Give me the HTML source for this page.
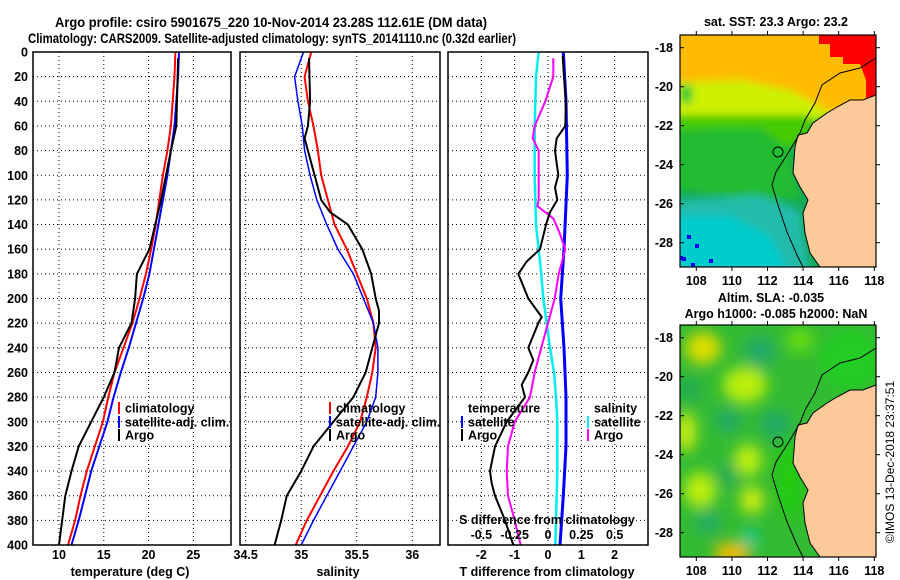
<!DOCTYPE html>
<html><head><meta charset="utf-8"><style>
html,body{margin:0;padding:0;background:#fff;}
svg{display:block;font-family:"Liberation Sans",Arial,sans-serif;font-weight:bold;}
</style></head><body>
<svg id="fig" width="900" height="580" viewBox="0 0 900 580" xmlns="http://www.w3.org/2000/svg">
<defs>
<filter id="blur4" x="-10%" y="-10%" width="120%" height="120%"><feGaussianBlur stdDeviation="4"/></filter>
<filter id="blur7" x="-20%" y="-20%" width="140%" height="140%"><feGaussianBlur stdDeviation="7"/></filter>
<clipPath id="clipTop"><rect x="680" y="35" width="196" height="232"/></clipPath>
<clipPath id="clipBot"><rect x="680" y="325" width="196" height="232"/></clipPath>
</defs>
<text x="271" y="27" font-size="14" text-anchor="middle" textLength="432" lengthAdjust="spacingAndGlyphs">Argo profile: csiro 5901675_220 10-Nov-2014 23.28S 112.61E (DM data)</text>
<text x="272" y="43" font-size="14" text-anchor="middle" textLength="488" lengthAdjust="spacingAndGlyphs">Climatology: CARS2009. Satellite-adjusted climatology: synTS_20141110.nc (0.32d earlier)</text>
<g id="panels"></g>
<g id="maps"></g>
<text transform="translate(894,462) rotate(-90)" font-size="12" font-weight="normal" text-anchor="middle">©IMOS 13-Dec-2018 23:37:51</text>
</svg>
<script>
// ---------- data ----------
const depthTicks = [0,20,40,60,80,100,120,140,160,180,200,220,240,260,280,300,320,340,360,380,400];
const tempTicks = [10,15,20,25];
const salTicks = [34.5,35,35.5,36];
const tdiffTicks = [-2,-1,0,1,2];
const sdiffTicks = [-0.5,-0.25,0,0.25,0.5];

const climDepth = [0,20,40,60,80,100,120,140,160,180,200,220,240,260,280,300,320,340,360,380,400];
const climTemp  = [23.0,22.9,22.7,22.5,22.1,21.6,21.2,20.8,20.3,19.7,19.0,18.2,17.2,16.2,15.5,14.9,14.0,13.1,12.4,11.8,11.0];
const satTemp   = [23.4,23.3,23.1,22.9,22.5,22.1,21.6,21.1,20.6,20.1,19.4,18.6,17.8,16.9,16.1,15.4,14.5,13.6,12.9,12.2,11.4];
const climSal   = [35.09,35.03,35.06,35.11,35.15,35.18,35.24,35.30,35.41,35.50,35.59,35.65,35.67,35.64,35.59,35.53,35.42,35.29,35.17,35.05,34.95];
const satSal    = [35.02,34.94,34.97,35.01,35.03,35.08,35.14,35.23,35.33,35.47,35.56,35.65,35.69,35.69,35.67,35.59,35.47,35.35,35.23,35.11,35.00];

const argoTDepth = [5,60,80,120,160,180,200,220,240,260,280,300,320,340,360,400];
const argoTemp   = [23.3,23.1,22.5,21.4,20.1,18.7,18.5,18.1,16.7,16.2,15.0,13.6,12.2,11.4,10.7,10.0];
const argoSDepth = [5,40,60,70,80,100,120,130,140,160,180,200,210,220,240,260,280,300,320,340,360,380,400];
const argoSal    = [35.07,35.08,35.06,35.03,35.06,35.12,35.18,35.26,35.42,35.55,35.63,35.67,35.70,35.70,35.64,35.58,35.47,35.29,35.11,35.00,34.87,34.82,34.76];

const satTdDepth = [0,40,100,160,200,240,280,320,360,400];
const satTdiff   = [0.46,0.54,0.58,0.48,0.38,0.48,0.54,0.54,0.46,0.36];
const argoTdDepth = [3,20,40,60,70,80,100,110,120,130,140,160,170,180,200,215,220,240,250,260,270,280,300,320,340,350,360,380,400];
const argoTdiff   = [0.44,0.48,0.54,0.52,0.26,0.21,0.31,0.21,0.28,0.06,-0.06,-0.24,-0.64,-0.89,-0.59,-0.19,-0.29,-0.59,-0.44,-0.59,-0.79,-0.69,-1.24,-1.59,-1.74,-1.69,-1.59,-1.29,-1.04];
const satSdDepth = [0,20,60,100,140,160,180,200,220,240,260,280,300,340,400];
const satSdiff   = [-0.07,-0.09,-0.1,-0.1,-0.09,-0.07,-0.05,-0.035,-0.01,0.015,0.045,0.06,0.07,0.07,0.055];
const argoSdDepth = [5,20,40,60,70,80,100,120,125,135,145,160,180,200,220,240,260,280,300,320,340,360,380,400];
const argoSdiff   = [0.04,0.04,-0.02,-0.1,-0.115,-0.07,-0.07,-0.07,-0.08,0.04,0.08,0.13,0.08,0.05,0.0,-0.05,-0.1,-0.135,-0.25,-0.3,-0.31,-0.3,-0.25,-0.205];

// ---------- scales ----------
const Y0=52, Y1=545;
const yD = d => Y0 + d*(Y1-Y0)/400;
const xT = t => 59 + (t-10)*8.955;
const xS = s => 245.7 + (s-34.5)*111.07;
const xTd = t => 548 + t*33.33;
const xSd = s => xTd(s*4);
const NS='http://www.w3.org/2000/svg';
const root=document.getElementById('panels');
function mk(tag,attrs,parent){const e=document.createElementNS(NS,tag);for(const k in attrs)e.setAttribute(k,attrs[k]);(parent||root).appendChild(e);return e;}
function txt(s,attrs,parent){const e=mk('text',attrs,parent);e.textContent=s;return e;}

const panels=[{l:33,r:231,name:'temperature-panel'},{l:240,r:440,name:'salinity-panel'},{l:448,r:648,name:'difference-panel'}];
const vgrid=[tempTicks.map(xT), salTicks.map(xS), tdiffTicks.map(xTd)];
panels.forEach((p,i)=>{
  const g=mk('g',{});
  
  
  depthTicks.slice(1,-1).forEach(d=>{
    const l=mk('line',{x1:p.l,x2:p.r,y1:yD(d),y2:yD(d),stroke:'#000','stroke-width':1,'stroke-dasharray':'1,3'},g);
    
    
  });
  vgrid[i].forEach(x=>{
    const l=mk('line',{x1:x,x2:x,y1:Y0,y2:Y1,stroke:'#000','stroke-width':1,'stroke-dasharray':'1,3'},g);
    
    
  });
  p.g=g;
});
function line(xs,ds,fx,color,w,name,g){
  const pts=xs.map((v,i)=>fx(v).toFixed(1)+','+yD(ds[i]).toFixed(1)).join(' ');
  const e=mk('polyline',{points:pts,fill:'none',stroke:color,'stroke-width':w,'stroke-linejoin':'round'},g);
  
  
}
line(climTemp,climDepth,xT,'#ff0000',2,'climatology-temperature-line',panels[0].g);
line(satTemp,climDepth,xT,'#0000ff',2,'satellite-temperature-line',panels[0].g);
line(argoTemp,argoTDepth,xT,'#000',2,'argo-temperature-line',panels[0].g);
line(climSal,climDepth,xS,'#ff0000',2,'climatology-salinity-line',panels[1].g);
line(satSal,climDepth,xS,'#0000ff',1.5,'satellite-salinity-line',panels[1].g);
line(argoSal,argoSDepth,xS,'#000',2,'argo-salinity-line',panels[1].g);
line(satSdiff,satSdDepth,xSd,'#00eeee',2.5,'satellite-salinity-difference-line',panels[2].g);
line(satTdiff,satTdDepth,xTd,'#0000ff',3,'satellite-temperature-difference-line',panels[2].g);
line(argoSdiff,argoSdDepth,xSd,'#ff00ff',2,'argo-salinity-difference-line',panels[2].g);
line(argoTdiff,argoTdDepth,xTd,'#000',2,'argo-temperature-difference-line',panels[2].g);

panels.forEach(p=>{
  const f=mk('rect',{x:p.l,y:Y0,width:p.r-p.l,height:Y1-Y0,fill:'none',stroke:'#000','stroke-width':1.5},p.g);
  
  
});
depthTicks.forEach(d=>{
  const t=txt(String(d),{x:28,y:yD(d)+4.5,'font-size':12.5,'text-anchor':'end'});
  
  
});
tempTicks.forEach(v=>{const t=txt(String(v),{x:xT(v),y:559,'font-size':12.5,'text-anchor':'middle'});
  
  });
salTicks.forEach(v=>{const t=txt(String(v),{x:xS(v),y:559,'font-size':12.5,'text-anchor':'middle'});
  
  });
tdiffTicks.forEach(v=>{const t=txt(String(v),{x:xTd(v),y:559,'font-size':12.5,'text-anchor':'middle'});
  
  });
sdiffTicks.forEach(v=>{const t=txt(String(v),{x:xSd(v),y:539,'font-size':12.5,'text-anchor':'middle'});
  
  });
[['temperature (deg C)',130,'temperature-axis-title'],['salinity',338,'salinity-axis-title'],['T difference from climatology',547,'t-difference-axis-title']].forEach(a=>{
  const t=txt(a[0],{x:a[1],y:576,'font-size':12.5,'text-anchor':'middle'});
  
  
});
const sd=txt('S difference from climatology',{x:547,y:524,'font-size':12.5,'text-anchor':'middle'});


function leg(x,y,color,label){
  const g=mk('g',{});
  
  
  if(color) mk('rect',{x:x,y:y-6,width:2,height:12,fill:color},g);
  txt(label,{x:x+7,y:y+4.5,'font-size':12.5},g);
}
leg(118,408,'#ff0000','climatology');leg(118,422,'#0000ff','satellite-adj. clim.');leg(118,435,'#000','Argo');
leg(329,408,'#ff0000','climatology');leg(329,422,'#0000ff','satellite-adj. clim.');leg(329,435,'#000','Argo');
leg(461,408,null,'temperature');leg(461,422,'#0000ff','satellite');leg(461,435,'#000','Argo');
leg(587,408,null,'salinity');leg(587,422,'#00eeee','satellite');leg(587,435,'#ff00ff','Argo');

// ---------- maps ----------
const mroot=document.getElementById('maps');
const lonTicks=[108,110,112,114,116,118];
const latTicks=[-18,-20,-22,-24,-26,-28];
const xLon=l=>696.3+(l-108)*17.8;
const land=[[876,95],[863,100],[850,100],[837,107],[827,113],[813,123],[807,133],[798,135],[795,147],[793,173],[800,187],[808,200],[803,213],[805,233],[810,253],[820,267],[876,267]];
const bathy=[[876,58],[860,68],[840,73],[822,85],[815,103],[805,120],[800,133],[790,150],[776,172],[772,185],[778,205],[787,232],[797,255],[803,267]];
function pts(a,dy){return a.map(p=>p[0]+','+(p[1]+dy)).join(' ');}
function mapFrame(dy,top,clip,name,fillFn){
  const g=mk('g',{},mroot);
  
  
  const c=mk('g',{'clip-path':'url(#'+clip+')'},g);
  fillFn(c);
  mk('polygon',{points:pts(land,dy),fill:'#fcc998'},c);
  mk('polyline',{points:pts(land.slice(0,-1),dy),fill:'none',stroke:'#000','stroke-width':1},c);
  mk('polyline',{points:pts(bathy,dy),fill:'none',stroke:'#000','stroke-width':1},c);
  const circ=mk('circle',{cx:778,cy:152+dy,r:5,fill:'none',stroke:'#000','stroke-width':1},g);
  
  
  mk('rect',{x:680,y:35+dy,width:196,height:232,fill:'none',stroke:'#000','stroke-width':1.2},g);
  const yLat=l=>47.7+dy+(-18-l)*19.5;
  latTicks.forEach(l=>{
    mk('line',{x1:680,x2:684,y1:yLat(l),y2:yLat(l),stroke:'#000'},g);
    mk('line',{x1:876,x2:880,y1:yLat(l),y2:yLat(l),stroke:'#000'},g);
    const t=txt(String(l),{x:673,y:yLat(l)+4.5,'font-size':12.5,'text-anchor':'end'},g);
    
    
  });
  lonTicks.forEach(l=>{
    mk('line',{x1:xLon(l),x2:xLon(l),y1:31+dy,y2:35+dy,stroke:'#000'},g);
    mk('line',{x1:xLon(l),x2:xLon(l),y1:267+dy,y2:271+dy,stroke:'#000'},g);
    const t=txt(String(l),{x:xLon(l),y:285+dy,'font-size':12.5,'text-anchor':'middle'},g);
    
    
  });
}
mapFrame(0,35,'clipTop','sst-map',c=>{
  mk('rect',{x:680,y:35,width:196,height:232,fill:'#11aa55'},c);
  const b=mk('g',{filter:'url(#blur4)'},c);
  mk('polygon',{points:'670,25 890,25 890,110 840,115 800,125 680,118 670,118',fill:'#ccf000'},b);
  mk('polygon',{points:'670,25 890,25 890,118 830,112 790,90 740,80 680,82 670,82',fill:'#ffbb00'},b);
  mk('polygon',{points:'670,115 810,115 810,140 780,150 740,135 670,130',fill:'#44cc00'},b);
  mk('polygon',{points:'670,130 760,128 790,150 800,200 770,200 670,190',fill:'#22bb33'},b);
  mk('polygon',{points:'670,200 760,195 800,210 810,275 670,275',fill:'#22bbaa'},b);
  mk('polygon',{points:'670,215 730,215 770,235 790,275 670,275',fill:'#00cccc'},b);
  mk('rect',{x:680,y:85,width:12,height:18,fill:'#33cc33'},b);
  mk('polygon',{points:'819,30 890,30 890,100 866,100 866,80 860,64 843,64 843,57 830,57 830,44 819,44',fill:'#ff0000'},c);
  [[689,237],[697,246],[681,258],[684,259],[711,261],[693,265]].forEach(p=>{
    mk('rect',{x:p[0]-2,y:p[1]-2,width:4,height:4,fill:'#0000ee'},c);
  });
});
mapFrame(290,325,'clipBot','sla-map',c=>{
  mk('rect',{x:680,y:325,width:196,height:232,fill:'#33bb33'},c);
  const b=mk('g',{filter:'url(#blur7)'},c);
  [[703,348,18,16,'#dddd00'],[745,385,22,18,'#bbee11'],[686,432,10,20,'#ccee11'],[748,460,14,16,'#bbee11'],[752,500,12,14,'#ccee11'],[700,490,16,18,'#bbee11'],[732,553,18,10,'#ffbb00'],
   [760,352,16,16,'#22aa66'],[690,390,10,14,'#22aa55'],[728,420,14,12,'#22aa66'],[775,424,16,14,'#22aa66'],[728,475,10,14,'#22aa55'],[708,522,12,12,'#22aa66'],[750,538,8,8,'#00ccaa'],[800,340,14,12,'#66dd11'],[850,360,30,30,'#22cc22'],[790,480,12,40,'#22cc11']
  ].forEach(e=>mk('ellipse',{cx:e[0],cy:e[1],rx:e[2],ry:e[3],fill:e[4]},b));
});
const t1=txt('sat. SST: 23.3 Argo: 23.2',{x:776,y:26,'font-size':12.5,'text-anchor':'middle'},mroot);


const t2=txt('Altim. SLA: -0.035',{x:771,y:302,'font-size':12.5,'text-anchor':'middle'},mroot);


const t3=txt('Argo h1000: -0.085 h2000: NaN',{x:776,y:318,'font-size':12.5,'text-anchor':'middle'},mroot);


</script>
</body></html>
